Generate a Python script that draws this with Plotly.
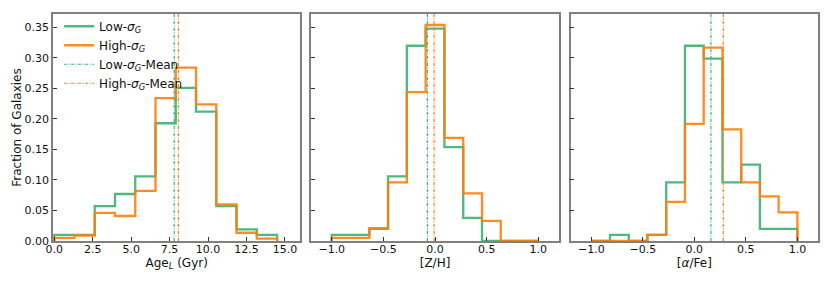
import plotly.graph_objects as go

# ---------------- data ----------------
age_edges = [0.0, 1.317, 2.634, 3.951, 5.268, 6.585, 7.902, 9.219, 10.536, 11.853, 13.17, 14.49]
age_low = [0.010, 0.010, 0.057, 0.077, 0.106, 0.193, 0.251, 0.212, 0.057, 0.019, 0.010]
age_high = [0.005, 0.009, 0.046, 0.041, 0.082, 0.234, 0.284, 0.224, 0.060, 0.0135, 0.004]
age_means = [7.80, 8.07]

met_edges = [-1.0, -0.818, -0.636, -0.455, -0.273, -0.091, 0.091, 0.273, 0.455, 0.636, 0.818, 1.0]
zh_low = [0.010, 0.010, 0.020, 0.106, 0.320, 0.348, 0.154, 0.038, 0.0, 0.0, 0.0]
zh_high = [0.005, 0.005, 0.021, 0.096, 0.244, 0.354, 0.169, 0.078, 0.033, 0.0, 0.0]
zh_means = [-0.074, -0.009]

afe_low = [0.0, 0.010, 0.0, 0.010, 0.096, 0.320, 0.299, 0.096, 0.125, 0.020, 0.020]
afe_high = [0.0, 0.0, 0.0, 0.010, 0.064, 0.192, 0.317, 0.183, 0.096, 0.073, 0.047]
afe_means = [0.161, 0.281]

y_ticks = [0.0, 0.05, 0.10, 0.15, 0.20, 0.25, 0.30, 0.35]
x_titles = ["Age<sub><i>L</i></sub> (Gyr)", "[Z/H]", "[<i>α</i>/Fe]"]
labels = ["Low-<i>σ<sub>G</sub></i>", "High-<i>σ<sub>G</sub></i>",
          "Low-<i>σ<sub>G</sub></i>-Mean", "High-<i>σ<sub>G</sub></i>-Mean"]

GREEN = "#3cb371"
ORANGE = "#ff7f0e"
FRAME = "#808080"
FONT = "DejaVu Sans"
YMAX = 0.372

panels = [
    (age_edges, age_low, age_high, age_means, [-0.08, 16.0], [0, 2.5, 5, 7.5, 10, 12.5, 15], ".1f"),
    (met_edges, zh_low, zh_high, zh_means, [-1.2, 1.2], [-1.0, -0.5, 0.0, 0.5, 1.0], ".1f"),
    (met_edges, afe_low, afe_high, afe_means, [-1.2, 1.2], [-1.0, -0.5, 0.0, 0.5, 1.0], ".1f"),
]

domains = [[0.0, 0.3233], [0.3374, 0.6614], [0.6767, 1.0]]


def step_xy(edges, vals):
    xs = [edges[0]] + list(edges[:-1]) + [edges[-1], edges[-1]]
    ys = [0] + list(vals) + [vals[-1], 0]
    return xs, ys


fig = go.Figure()

for i, (edges, lo, hi, means, xr, xt, fmt) in enumerate(panels):
    ax = "" if i == 0 else str(i + 1)
    xref = "x" + ax
    yref = "y" + ax
    show = i == 0
    for vals, col, name, rank in [(lo, GREEN, labels[0], 1), (hi, ORANGE, labels[1], 2)]:
        xs, ys = step_xy(edges, vals)
        fig.add_trace(go.Scatter(x=xs, y=ys, mode="lines", line=dict(color=col, width=2.3, shape="hv"),
                                 opacity=0.9, name=name, showlegend=show, legendrank=rank,
                                 xaxis=xref, yaxis=yref, hoverinfo="skip"))
    for m, col, name, rank in [(means[0], GREEN, labels[2], 3), (means[1], ORANGE, labels[3], 4)]:
        fig.add_trace(go.Scatter(x=[m, m], y=[0, YMAX], mode="lines",
                                 line=dict(color=col, width=1.2, dash="3px,1.5px,1px,1.5px"),
                                 name=name, showlegend=show, legendrank=rank,
                                 xaxis=xref, yaxis=yref, hoverinfo="skip"))

    fig.update_layout(**{
        "xaxis" + ax: dict(domain=domains[i], range=xr, tickvals=xt, tickformat=fmt,
                           ticks="inside", ticklen=4, tickcolor="#333", showgrid=False, zeroline=False,
                           showline=True, linecolor=FRAME, linewidth=1.5, mirror=True,
                           tickfont=dict(family=FONT, size=11, color="#111"),
                           ticklabelstandoff=-3,
                           title=dict(text=x_titles[i], font=dict(family=FONT, size=12, color="#111"), standoff=0),
                           anchor=yref),
        "yaxis" + ax: dict(range=[0, YMAX], tickvals=y_ticks, tickformat=".2f",
                           showticklabels=(i == 0),
                           ticks="inside", ticklen=4, tickcolor="#333", showgrid=False, zeroline=False,
                           showline=True, linecolor=FRAME, linewidth=1.5, mirror=True,
                           tickfont=dict(family=FONT, size=11, color="#111"),
                           title=dict(text="Fraction of Galaxies" if i == 0 else "",
                                      font=dict(family=FONT, size=12, color="#111"), standoff=0),
                           anchor=xref),
    })

# page body has an 8px default margin, so the figure is sized to fit the 830x282 window
fig.update_layout(
    width=822, height=274,
    margin=dict(l=45, r=11.5, t=4, b=41),
    paper_bgcolor="white", plot_bgcolor="white",
    font=dict(family=FONT, size=11, color="#111"),
    legend=dict(x=0.008, y=1.01, xanchor="left", yanchor="top", bgcolor="rgba(0,0,0,0)",
                borderwidth=0, font=dict(family=FONT, size=12, color="#111"),
                tracegroupgap=0, itemwidth=30),
)

fig.write_html("out.html")
